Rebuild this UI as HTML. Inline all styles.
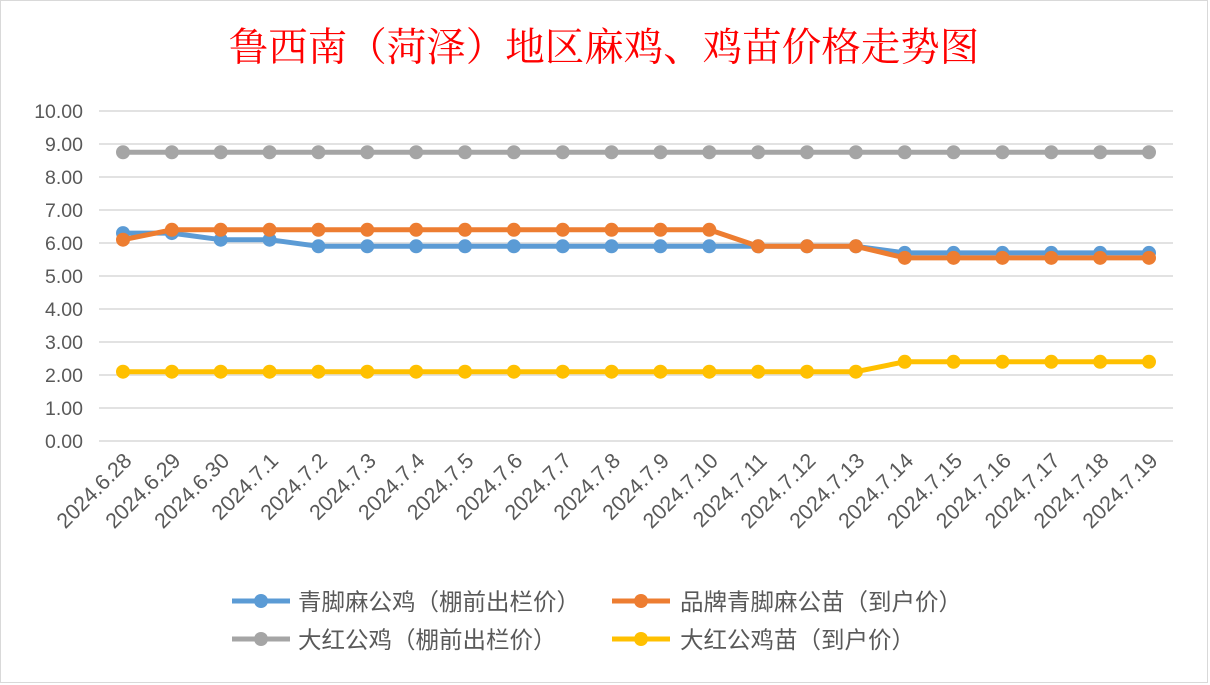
<!DOCTYPE html>
<html><head><meta charset="utf-8"><style>
html,body{margin:0;padding:0;background:#fff;}
svg{display:block;}
</style></head><body>
<svg width="1210" height="685" viewBox="0 0 1210 685" xmlns="http://www.w3.org/2000/svg">
<rect x="0.5" y="0.5" width="1207" height="682" fill="#fff" stroke="#d9d9d9"/>
<text x="604" y="61" text-anchor="middle" fill="#ff0000" font-size="39.5" font-family="'Liberation Serif','Noto Serif CJK SC',serif">鲁西南（菏泽）地区麻鸡、鸡苗价格走势图</text>
<g id="grid"></g><g id="ylab"></g><g id="xlab"></g><g id="series"></g>
<g font-family="'Liberation Sans','Noto Sans CJK SC',sans-serif" font-size="23.5" fill="#595959">
<g><line x1="232" y1="601" x2="290" y2="601" stroke="#5b9bd5" stroke-width="5"/><circle cx="261" cy="601" r="7" fill="#5b9bd5"/><text x="298" y="610">青脚麻公鸡（棚前出栏价）</text></g>
<g><line x1="612" y1="601" x2="670" y2="601" stroke="#ed7d31" stroke-width="5"/><circle cx="641" cy="601" r="7" fill="#ed7d31"/><text x="680" y="610">品牌青脚麻公苗（到户价）</text></g>
<g><line x1="232" y1="639" x2="290" y2="639" stroke="#a5a5a5" stroke-width="5"/><circle cx="261" cy="639" r="7" fill="#a5a5a5"/><text x="298" y="648">大红公鸡（棚前出栏价）</text></g>
<g><line x1="612" y1="639" x2="670" y2="639" stroke="#ffc000" stroke-width="5"/><circle cx="641" cy="639" r="7" fill="#ffc000"/><text x="680" y="648">大红公鸡苗（到户价）</text></g>
</g>
</svg>
<script>
const categories=["2024.6.28","2024.6.29","2024.6.30","2024.7.1","2024.7.2","2024.7.3","2024.7.4","2024.7.5","2024.7.6","2024.7.7","2024.7.8","2024.7.9","2024.7.10","2024.7.11","2024.7.12","2024.7.13","2024.7.14","2024.7.15","2024.7.16","2024.7.17","2024.7.18","2024.7.19"];
const blueValues=[6.3,6.3,6.1,6.1,5.9,5.9,5.9,5.9,5.9,5.9,5.9,5.9,5.9,5.9,5.9,5.9,5.7,5.7,5.7,5.7,5.7,5.7];
const orangeValues=[6.1,6.4,6.4,6.4,6.4,6.4,6.4,6.4,6.4,6.4,6.4,6.4,6.4,5.9,5.9,5.9,5.55,5.55,5.55,5.55,5.55,5.55];
const grayValues=[8.75,8.75,8.75,8.75,8.75,8.75,8.75,8.75,8.75,8.75,8.75,8.75,8.75,8.75,8.75,8.75,8.75,8.75,8.75,8.75,8.75,8.75];
const yellowValues=[2.1,2.1,2.1,2.1,2.1,2.1,2.1,2.1,2.1,2.1,2.1,2.1,2.1,2.1,2.1,2.1,2.4,2.4,2.4,2.4,2.4,2.4];
const yTicks=[0,1,2,3,4,5,6,7,8,9,10];
const NS="http://www.w3.org/2000/svg";
const y=v=>441-v*33;
const x=i=>123+i*(1149-123)/(categories.length-1);
function mk(t,a,p){const e=document.createElementNS(NS,t);for(const k in a)e.setAttribute(k,a[k]);p.appendChild(e);return e;}
const F="'Liberation Sans','Noto Sans CJK SC',sans-serif";
const grid=document.getElementById('grid'),yl=document.getElementById('ylab'),xl=document.getElementById('xlab'),sg=document.getElementById('series');
yTicks.forEach(t=>{
 const l=mk('line',{x1:99,x2:1173,y1:y(t),y2:y(t),stroke:'#d9d9d9','stroke-width':1.5},grid);
 
 
 const tx=mk('text',{x:83,y:y(t)+7,'text-anchor':'end','font-size':19.5,fill:'#595959','font-family':F},yl);
 
 
 tx.textContent=t.toFixed(2);
});
categories.forEach((c,i)=>{
 const tx=mk('text',{x:x(i)+10,y:462,'text-anchor':'end','font-size':21.5,fill:'#595959','font-family':F,transform:`rotate(-45 ${x(i)+10} 462)`},xl);
 
 
 tx.textContent=c;
});
[[blueValues,'#5b9bd5','blue'],[orangeValues,'#ed7d31','orange'],[grayValues,'#a5a5a5','gray'],[yellowValues,'#ffc000','yellow']].forEach(([vals,col,nm])=>{
 const g=mk('g',{},sg);
 
 
 const p=mk('polyline',{points:vals.map((v,i)=>x(i)+','+y(v)).join(' '),fill:'none',stroke:col,'stroke-width':5,'stroke-linejoin':'round'},g);
 
 
 vals.forEach((v,i)=>{
  const c=mk('circle',{cx:x(i),cy:y(v),r:7,fill:col},g);
  
  
 });
});
</script>
</body></html>
